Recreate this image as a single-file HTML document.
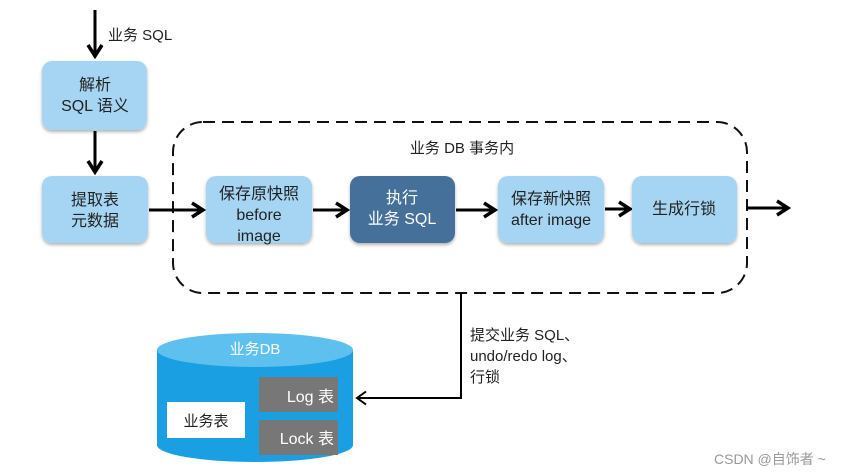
<!DOCTYPE html>
<html><head><meta charset="utf-8"><style>
html,body{margin:0;padding:0;background:#fff;width:862px;height:476px;overflow:hidden}
text{font-family:"Liberation Sans","Noto Sans CJK SC",sans-serif}
</style></head><body>
<svg width="862" height="476" viewBox="0 0 862 476" xmlns="http://www.w3.org/2000/svg">
<defs>
<marker id="a" markerWidth="16" markerHeight="18" refX="13" refY="9" orient="auto" markerUnits="userSpaceOnUse">
<path d="M2,2 L13,9 L2,16" fill="none" stroke="#000" stroke-width="3.5" stroke-linejoin="miter"/></marker>
<marker id="b" markerWidth="14" markerHeight="16" refX="11" refY="8" orient="auto" markerUnits="userSpaceOnUse">
<path d="M2,1.5 L11,8 L2,14.5" fill="none" stroke="#000" stroke-width="2"/></marker>
<filter id="s" x="-10%" y="-10%" width="120%" height="130%"><feDropShadow dx="0" dy="2" stdDeviation="1.5" flood-color="#000" flood-opacity="0.3"/></filter>
</defs>
<rect x="173" y="122" width="574" height="171" rx="30" fill="none" stroke="#111" stroke-width="2" stroke-dasharray="12,7"/>
<text x="462" y="153" font-size="15" text-anchor="middle" fill="#222">业务 DB 事务内</text>
<line x1="95" y1="10" x2="95" y2="56" stroke="#000" stroke-width="3" marker-end="url(#a)"/>
<text x="108" y="40" font-size="15" fill="#222">业务 SQL</text>
<line x1="95" y1="131" x2="95" y2="172" stroke="#000" stroke-width="3" marker-end="url(#a)"/>
<line x1="149" y1="210" x2="203" y2="210" stroke="#000" stroke-width="3" marker-end="url(#a)"/>
<line x1="313" y1="210" x2="347" y2="210" stroke="#000" stroke-width="3" marker-end="url(#a)"/>
<line x1="456" y1="210" x2="495" y2="210" stroke="#000" stroke-width="3" marker-end="url(#a)"/>
<line x1="605" y1="209" x2="630" y2="209" stroke="#000" stroke-width="3" marker-end="url(#a)"/>
<line x1="747" y1="208" x2="788" y2="208" stroke="#000" stroke-width="3" marker-end="url(#a)"/>
<g filter="url(#s)">
<rect x="42" y="61" width="105" height="69" rx="10" fill="#a6d5f3"/>
<rect x="42" y="176" width="106" height="67" rx="10" fill="#a6d5f3"/>
<rect x="206" y="176" width="106" height="67" rx="10" fill="#a6d5f3"/>
<rect x="350" y="176" width="105" height="67" rx="10" fill="#45709a"/>
<rect x="498" y="176" width="106" height="67" rx="10" fill="#a6d5f3"/>
<rect x="632" y="176" width="105" height="67" rx="10" fill="#a6d5f3"/>
</g>
<g font-size="16" text-anchor="middle" fill="#222">
<text x="95" y="90">解析</text><text x="95" y="111">SQL 语义</text>
<text x="95" y="205">提取表</text><text x="95" y="226">元数据</text>
<text x="259" y="199">保存原快照</text><text x="259" y="220">before</text><text x="259" y="241">image</text>
<text x="402" y="203" fill="#fff">执行</text><text x="402" y="224" fill="#fff">业务 SQL</text>
<text x="551" y="204">保存新快照</text><text x="551" y="225">after image</text>
<text x="684" y="214">生成行锁</text>
</g>
<polyline points="461,293 461,398 357,398" fill="none" stroke="#000" stroke-width="2" marker-end="url(#b)"/>
<g font-size="15" fill="#222">
<text x="470" y="340">提交业务 SQL、</text>
<text x="470" y="361">undo/redo log、</text>
<text x="470" y="382">行锁</text>
</g>
<path d="M157,350 L157,445 A98,17 0 0 0 353,445 L353,350 Z" fill="#1a9fe2"/>
<ellipse cx="255" cy="350" rx="98" ry="17" fill="#5ec0ef"/>
<text x="255" y="354" font-size="15" text-anchor="middle" fill="#fff">业务DB</text>
<rect x="167" y="402" width="78" height="36" fill="#fff"/>
<text x="206" y="426" font-size="15" text-anchor="middle" fill="#222">业务表</text>
<rect x="259" y="377" width="79" height="35" fill="#777"/>
<rect x="259" y="420" width="79" height="35" fill="#777"/>
<text x="334" y="402" font-size="16" text-anchor="end" fill="#fff">Log 表</text>
<text x="334" y="444" font-size="16" text-anchor="end" fill="#fff">Lock 表</text>
<text x="714" y="464" font-size="14" fill="#999">CSDN @自饰者 ~</text>
</svg>
</body></html>
